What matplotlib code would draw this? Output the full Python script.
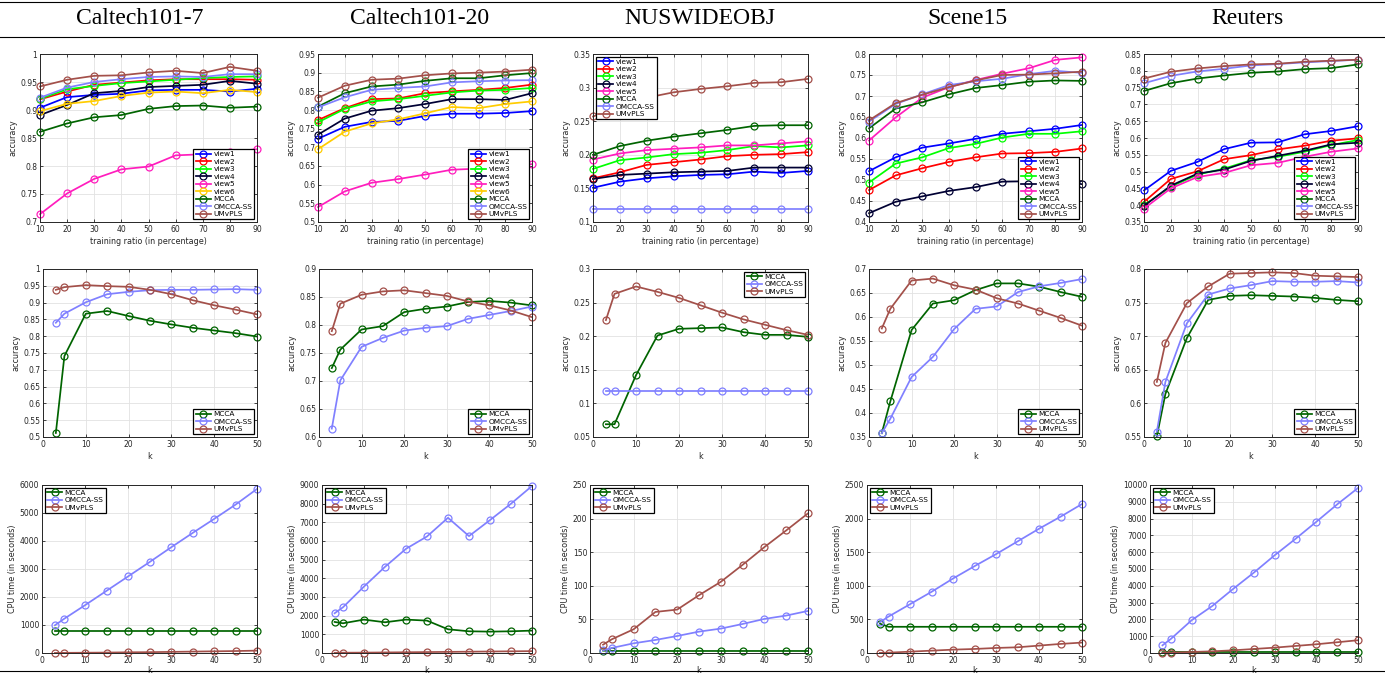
import matplotlib.pyplot as plt
from matplotlib.lines import Line2D
from matplotlib.ticker import FuncFormatter

# ---- data -------------------------------------------------------------
datasets = ['Caltech101-7', 'Caltech101-20', 'NUSWIDEOBJ', 'Scene15', 'Reuters']
ratio = [10, 20, 30, 40, 50, 60, 70, 80, 90]
k_vals = [3, 5, 10, 15, 20, 25, 30, 35, 40, 45, 50]

# row 1: accuracy vs training ratio
cal7_ratio = {
    'view1': [0.904, 0.923, 0.927, 0.929, 0.935, 0.936, 0.936, 0.933, 0.938],
    'view2': [0.919, 0.933, 0.945, 0.949, 0.953, 0.955, 0.955, 0.955, 0.954],
    'view3': [0.920, 0.937, 0.943, 0.948, 0.951, 0.954, 0.957, 0.959, 0.960],
    'view4': [0.891, 0.909, 0.930, 0.934, 0.941, 0.943, 0.945, 0.952, 0.947],
    'view5': [0.714, 0.751, 0.777, 0.794, 0.799, 0.819, 0.821, 0.825, 0.830],
    'view6': [0.898, 0.911, 0.916, 0.925, 0.931, 0.933, 0.930, 0.936, 0.932],
    'MCCA': [0.861, 0.876, 0.887, 0.891, 0.902, 0.907, 0.908, 0.904, 0.906],
    'OMCCA-SS': [0.922, 0.940, 0.950, 0.955, 0.959, 0.960, 0.959, 0.964, 0.964],
    'UMvPLS': [0.942, 0.954, 0.961, 0.962, 0.967, 0.970, 0.966, 0.977, 0.970],
}
cal20_ratio = {
    'view1': [0.723, 0.755, 0.768, 0.771, 0.784, 0.790, 0.790, 0.792, 0.797],
    'view2': [0.773, 0.805, 0.829, 0.831, 0.845, 0.850, 0.854, 0.859, 0.868],
    'view3': [0.767, 0.803, 0.823, 0.829, 0.838, 0.847, 0.852, 0.854, 0.859],
    'view4': [0.734, 0.777, 0.798, 0.805, 0.816, 0.829, 0.829, 0.827, 0.845],
    'view5': [0.540, 0.582, 0.605, 0.615, 0.627, 0.640, 0.643, 0.648, 0.655],
    'view6': [0.695, 0.742, 0.764, 0.775, 0.791, 0.808, 0.805, 0.816, 0.823],
    'MCCA': [0.809, 0.845, 0.863, 0.868, 0.878, 0.885, 0.885, 0.893, 0.899],
    'OMCCA-SS': [0.807, 0.834, 0.854, 0.859, 0.863, 0.874, 0.877, 0.879, 0.880],
    'UMvPLS': [0.833, 0.865, 0.881, 0.884, 0.893, 0.898, 0.900, 0.903, 0.908],
}
nus_ratio = {
    'view1': [0.151, 0.160, 0.165, 0.168, 0.170, 0.171, 0.175, 0.173, 0.176],
    'view2': [0.165, 0.174, 0.185, 0.189, 0.193, 0.198, 0.200, 0.201, 0.204],
    'view3': [0.179, 0.192, 0.196, 0.201, 0.203, 0.207, 0.213, 0.211, 0.214],
    'view4': [0.164, 0.170, 0.172, 0.174, 0.175, 0.176, 0.181, 0.181, 0.181],
    'view5': [0.193, 0.202, 0.207, 0.209, 0.211, 0.214, 0.214, 0.217, 0.220],
    'MCCA': [0.200, 0.213, 0.221, 0.227, 0.232, 0.237, 0.243, 0.244, 0.244],
    'OMCCA-SS': [0.119, 0.119, 0.119, 0.119, 0.119, 0.119, 0.119, 0.119, 0.119],
    'UMvPLS': [0.257, 0.272, 0.285, 0.293, 0.298, 0.302, 0.307, 0.308, 0.313],
}
scene_ratio = {
    'view1': [0.521, 0.554, 0.577, 0.587, 0.598, 0.610, 0.616, 0.622, 0.631],
    'view2': [0.476, 0.511, 0.528, 0.543, 0.554, 0.563, 0.564, 0.567, 0.575],
    'view3': [0.494, 0.539, 0.554, 0.576, 0.586, 0.601, 0.610, 0.610, 0.616],
    'view4': [0.421, 0.448, 0.461, 0.474, 0.483, 0.496, 0.497, 0.500, 0.490],
    'view5': [0.594, 0.649, 0.696, 0.721, 0.738, 0.753, 0.766, 0.786, 0.792],
    'MCCA': [0.623, 0.670, 0.685, 0.704, 0.719, 0.726, 0.734, 0.737, 0.736],
    'OMCCA-SS': [0.639, 0.681, 0.704, 0.726, 0.735, 0.741, 0.752, 0.760, 0.755],
    'UMvPLS': [0.642, 0.683, 0.703, 0.721, 0.737, 0.750, 0.751, 0.754, 0.758],
}
reuters_ratio = {
    'view1': [0.444, 0.502, 0.529, 0.567, 0.586, 0.587, 0.611, 0.621, 0.635],
    'view2': [0.410, 0.478, 0.501, 0.537, 0.549, 0.566, 0.577, 0.592, 0.599],
    'view3': [0.400, 0.455, 0.491, 0.509, 0.534, 0.544, 0.559, 0.579, 0.594],
    'view4': [0.398, 0.458, 0.494, 0.506, 0.532, 0.547, 0.562, 0.581, 0.586],
    'view5': [0.390, 0.450, 0.484, 0.496, 0.519, 0.526, 0.544, 0.559, 0.569],
    'MCCA': [0.740, 0.763, 0.777, 0.786, 0.794, 0.798, 0.805, 0.808, 0.819],
    'OMCCA-SS': [0.763, 0.785, 0.798, 0.806, 0.816, 0.820, 0.825, 0.829, 0.833],
    'UMvPLS': [0.777, 0.797, 0.807, 0.814, 0.819, 0.821, 0.827, 0.830, 0.833],
}

# row 2: accuracy vs k
cal7_k = {
    'MCCA': [0.512, 0.741, 0.867, 0.875, 0.860, 0.846, 0.835, 0.825, 0.817, 0.809, 0.799],
    'OMCCA-SS': [0.840, 0.867, 0.901, 0.925, 0.932, 0.937, 0.938, 0.938, 0.939, 0.940, 0.938],
    'UMvPLS': [0.938, 0.946, 0.952, 0.949, 0.947, 0.938, 0.925, 0.907, 0.892, 0.879, 0.865],
}
cal20_k = {
    'MCCA': [0.723, 0.756, 0.792, 0.798, 0.823, 0.829, 0.833, 0.841, 0.843, 0.840, 0.835],
    'OMCCA-SS': [0.615, 0.701, 0.761, 0.777, 0.790, 0.795, 0.798, 0.811, 0.818, 0.825, 0.833],
    'UMvPLS': [0.789, 0.838, 0.854, 0.860, 0.862, 0.857, 0.852, 0.842, 0.835, 0.826, 0.814],
}
nus_k = {
    'MCCA': [0.069, 0.069, 0.142, 0.201, 0.211, 0.212, 0.213, 0.206, 0.202, 0.202, 0.199],
    'OMCCA-SS': [0.119, 0.119, 0.119, 0.119, 0.119, 0.119, 0.119, 0.119, 0.119, 0.119, 0.119],
    'UMvPLS': [0.224, 0.263, 0.274, 0.266, 0.257, 0.246, 0.235, 0.225, 0.217, 0.209, 0.202],
}
scene_k = {
    'MCCA': [0.358, 0.424, 0.573, 0.628, 0.635, 0.656, 0.670, 0.670, 0.663, 0.652, 0.642],
    'OMCCA-SS': [0.358, 0.388, 0.475, 0.517, 0.575, 0.617, 0.622, 0.652, 0.664, 0.671, 0.679],
    'UMvPLS': [0.576, 0.617, 0.676, 0.680, 0.666, 0.657, 0.639, 0.628, 0.613, 0.598, 0.582],
}
reuters_k = {
    'MCCA': [0.551, 0.614, 0.697, 0.754, 0.760, 0.761, 0.760, 0.759, 0.757, 0.754, 0.752],
    'OMCCA-SS': [0.558, 0.632, 0.719, 0.762, 0.771, 0.776, 0.782, 0.781, 0.781, 0.782, 0.780],
    'UMvPLS': [0.632, 0.690, 0.749, 0.774, 0.793, 0.794, 0.795, 0.794, 0.790, 0.789, 0.788],
}

# row 3: CPU time vs k
cal7_cpu = {
    'MCCA': [790, 790, 790, 790, 790, 790, 790, 790, 790, 790, 790],
    'OMCCA-SS': [990, 1206, 1707, 2220, 2733, 3246, 3771, 4284, 4785, 5298, 5859],
    'UMvPLS': [2, 5, 10, 15, 25, 30, 40, 50, 60, 70, 85],
}
cal20_cpu = {
    'MCCA': [1664, 1592, 1789, 1646, 1789, 1735, 1270, 1163, 1145, 1163, 1199],
    'OMCCA-SS': [2129, 2451, 3560, 4616, 5582, 6243, 7245, 6262, 7121, 7998, 8946],
    'UMvPLS': [10, 15, 20, 30, 40, 50, 60, 70, 80, 90, 100],
}
nus_cpu = {
    'MCCA': [3.5, 3, 3, 3, 3, 3, 3, 3, 3, 3, 3],
    'OMCCA-SS': [4, 7.5, 14.4, 19.4, 25.3, 31.8, 36.3, 43.2, 50.7, 55.7, 62.6],
    'UMvPLS': [12.4, 20.4, 35.3, 61.1, 64.6, 86, 105.9, 131.2, 157.6, 182.4, 207.8],
}
scene_cpu = {
    'MCCA': [437, 390, 390, 390, 390, 390, 390, 390, 390, 390, 390],
    'OMCCA-SS': [457, 542, 726, 910, 1108, 1292, 1471, 1660, 1849, 2028, 2217],
    'UMvPLS': [2, 5, 20, 35, 50, 60, 75, 85, 110, 135, 155],
}
reuters_cpu = {
    'MCCA': [50, 60, 60, 60, 60, 60, 60, 60, 60, 60, 60],
    'OMCCA-SS': [457, 835, 1948, 2803, 3817, 4791, 5825, 6799, 7813, 8847, 9821],
    'UMvPLS': [5, 20, 60, 100, 160, 240, 320, 420, 520, 640, 760],
}

colors = {
    'view1': '#0000ff', 'view2': '#ff0000', 'view3': '#00ff00', 'view4': '#000033',
    'view5': '#ff1dbd', 'view6': '#ffcc00', 'MCCA': '#006400',
    'OMCCA-SS': '#8080ff', 'UMvPLS': '#a3504a',
}

# ---- layout -----------------------------------------------------------
W, H = 1385, 673
fig = plt.figure(figsize=(13.85, 6.73), dpi=100)


def px_axes(l, t, r, b):
    return fig.add_axes([l / W, 1 - b / H, (r - l) / W, (b - t) / H])


fmt = FuncFormatter(lambda v, _: f'{round(v, 6):g}')
gray = '#262626'


def style(ax):
    ax.grid(True, color='#e2e2e2', linewidth=0.6)
    ax.set_axisbelow(True)
    ax.tick_params(direction='in', top=True, right=True, length=2.5, width=0.6,
                   labelsize=5.5, colors=gray, pad=2)
    for s in ax.spines.values():
        s.set_linewidth(0.7)
        s.set_color(gray)
    ax.yaxis.set_major_formatter(fmt)


def draw(ax, x, series, legend_loc):
    for name, vals in series.items():
        ax.plot(x, vals, color=colors[name], marker='o', mfc='none', ms=5,
                mew=0.9, lw=1.25, label=name, clip_on=False)
    leg = ax.legend(loc=legend_loc, fontsize=5.3, fancybox=False, framealpha=1,
                    edgecolor='black', borderpad=0.3, labelspacing=0.18,
                    handlelength=2.1, handletextpad=0.3, borderaxespad=0.35)
    leg.get_frame().set_linewidth(0.9)
    leg.set_zorder(5)


row_y = [(54, 222), (269, 437), (485, 653)]
row_x = [
    [(40, 257), (318, 532), (593, 808), (869, 1082), (1144, 1358)],
    [(43, 257), (319, 532), (593, 808), (869, 1082), (1144, 1358)],
    [(42, 257), (322, 532), (590, 808), (867, 1082), (1150, 1358)],
]

ratio_data = [cal7_ratio, cal20_ratio, nus_ratio, scene_ratio, reuters_ratio]
ratio_ylim = [(0.7, 1.0), (0.5, 0.95), (0.1, 0.35), (0.4, 0.8), (0.35, 0.85)]
ratio_leg = ['lower right', 'lower right', 'upper left', 'lower right', 'lower right']

k_data = [cal7_k, cal20_k, nus_k, scene_k, reuters_k]
k_ylim = [(0.5, 1.0), (0.6, 0.9), (0.05, 0.3), (0.35, 0.7), (0.55, 0.8)]
k_leg = ['lower right', 'lower right', 'upper right', 'lower right', 'lower right']

cpu_data = [cal7_cpu, cal20_cpu, nus_cpu, scene_cpu, reuters_cpu]
cpu_ylim = [(0, 6000), (0, 9000), (0, 250), (0, 2500), (0, 10000)]
cpu_ystep = [1000, 1000, 50, 500, 1000]


def yticks(lo, hi, step):
    n = int(round((hi - lo) / step))
    return [lo + i * step for i in range(n + 1)]


for c in range(5):
    # accuracy vs training ratio
    (l, r), (t, b) = row_x[0][c], row_y[0]
    ax = px_axes(l, t, r, b)
    style(ax)
    draw(ax, ratio, ratio_data[c], ratio_leg[c])
    ax.set_xlim(10, 90)
    ax.set_xticks(ratio)
    ax.set_ylim(*ratio_ylim[c])
    ax.set_yticks(yticks(*ratio_ylim[c], 0.05))
    ax.set_xlabel('training ratio (in percentage)', fontsize=5.8, color=gray, labelpad=2)
    ax.set_ylabel('accuracy', fontsize=5.8, color=gray, labelpad=2)

    # accuracy vs k
    (l, r), (t, b) = row_x[1][c], row_y[1]
    ax = px_axes(l, t, r, b)
    style(ax)
    draw(ax, k_vals, k_data[c], k_leg[c])
    ax.set_xlim(0, 50)
    ax.set_xticks([0, 10, 20, 30, 40, 50])
    ax.set_ylim(*k_ylim[c])
    ax.set_yticks(yticks(*k_ylim[c], 0.05))
    ax.set_xlabel('k', fontsize=5.8, color=gray, labelpad=2)
    ax.set_ylabel('accuracy', fontsize=5.8, color=gray, labelpad=2)

    # CPU time vs k
    (l, r), (t, b) = row_x[2][c], row_y[2]
    ax = px_axes(l, t, r, b)
    style(ax)
    draw(ax, k_vals, cpu_data[c], 'upper left')
    ax.set_xlim(0, 50)
    ax.set_xticks([0, 10, 20, 30, 40, 50])
    ax.set_ylim(*cpu_ylim[c])
    ax.set_yticks(yticks(*cpu_ylim[c], cpu_ystep[c]))
    ax.set_xlabel('k', fontsize=5.8, color=gray, labelpad=1)
    ax.set_ylabel('CPU time (in seconds)', fontsize=5.8, color=gray, labelpad=2)

# column headers and table rules
centers = [140, 420, 700, 967, 1247]
for name, cx in zip(datasets, centers):
    fig.text(cx / W, 1 - 19 / H, name, ha='center', va='center',
             fontsize=17, family='Liberation Serif')
for yy in [2, 37, 671]:
    fig.add_artist(Line2D([0, 1], [1 - yy / H] * 2, color='black', lw=0.8))

fig.savefig('out.png', dpi=100)
